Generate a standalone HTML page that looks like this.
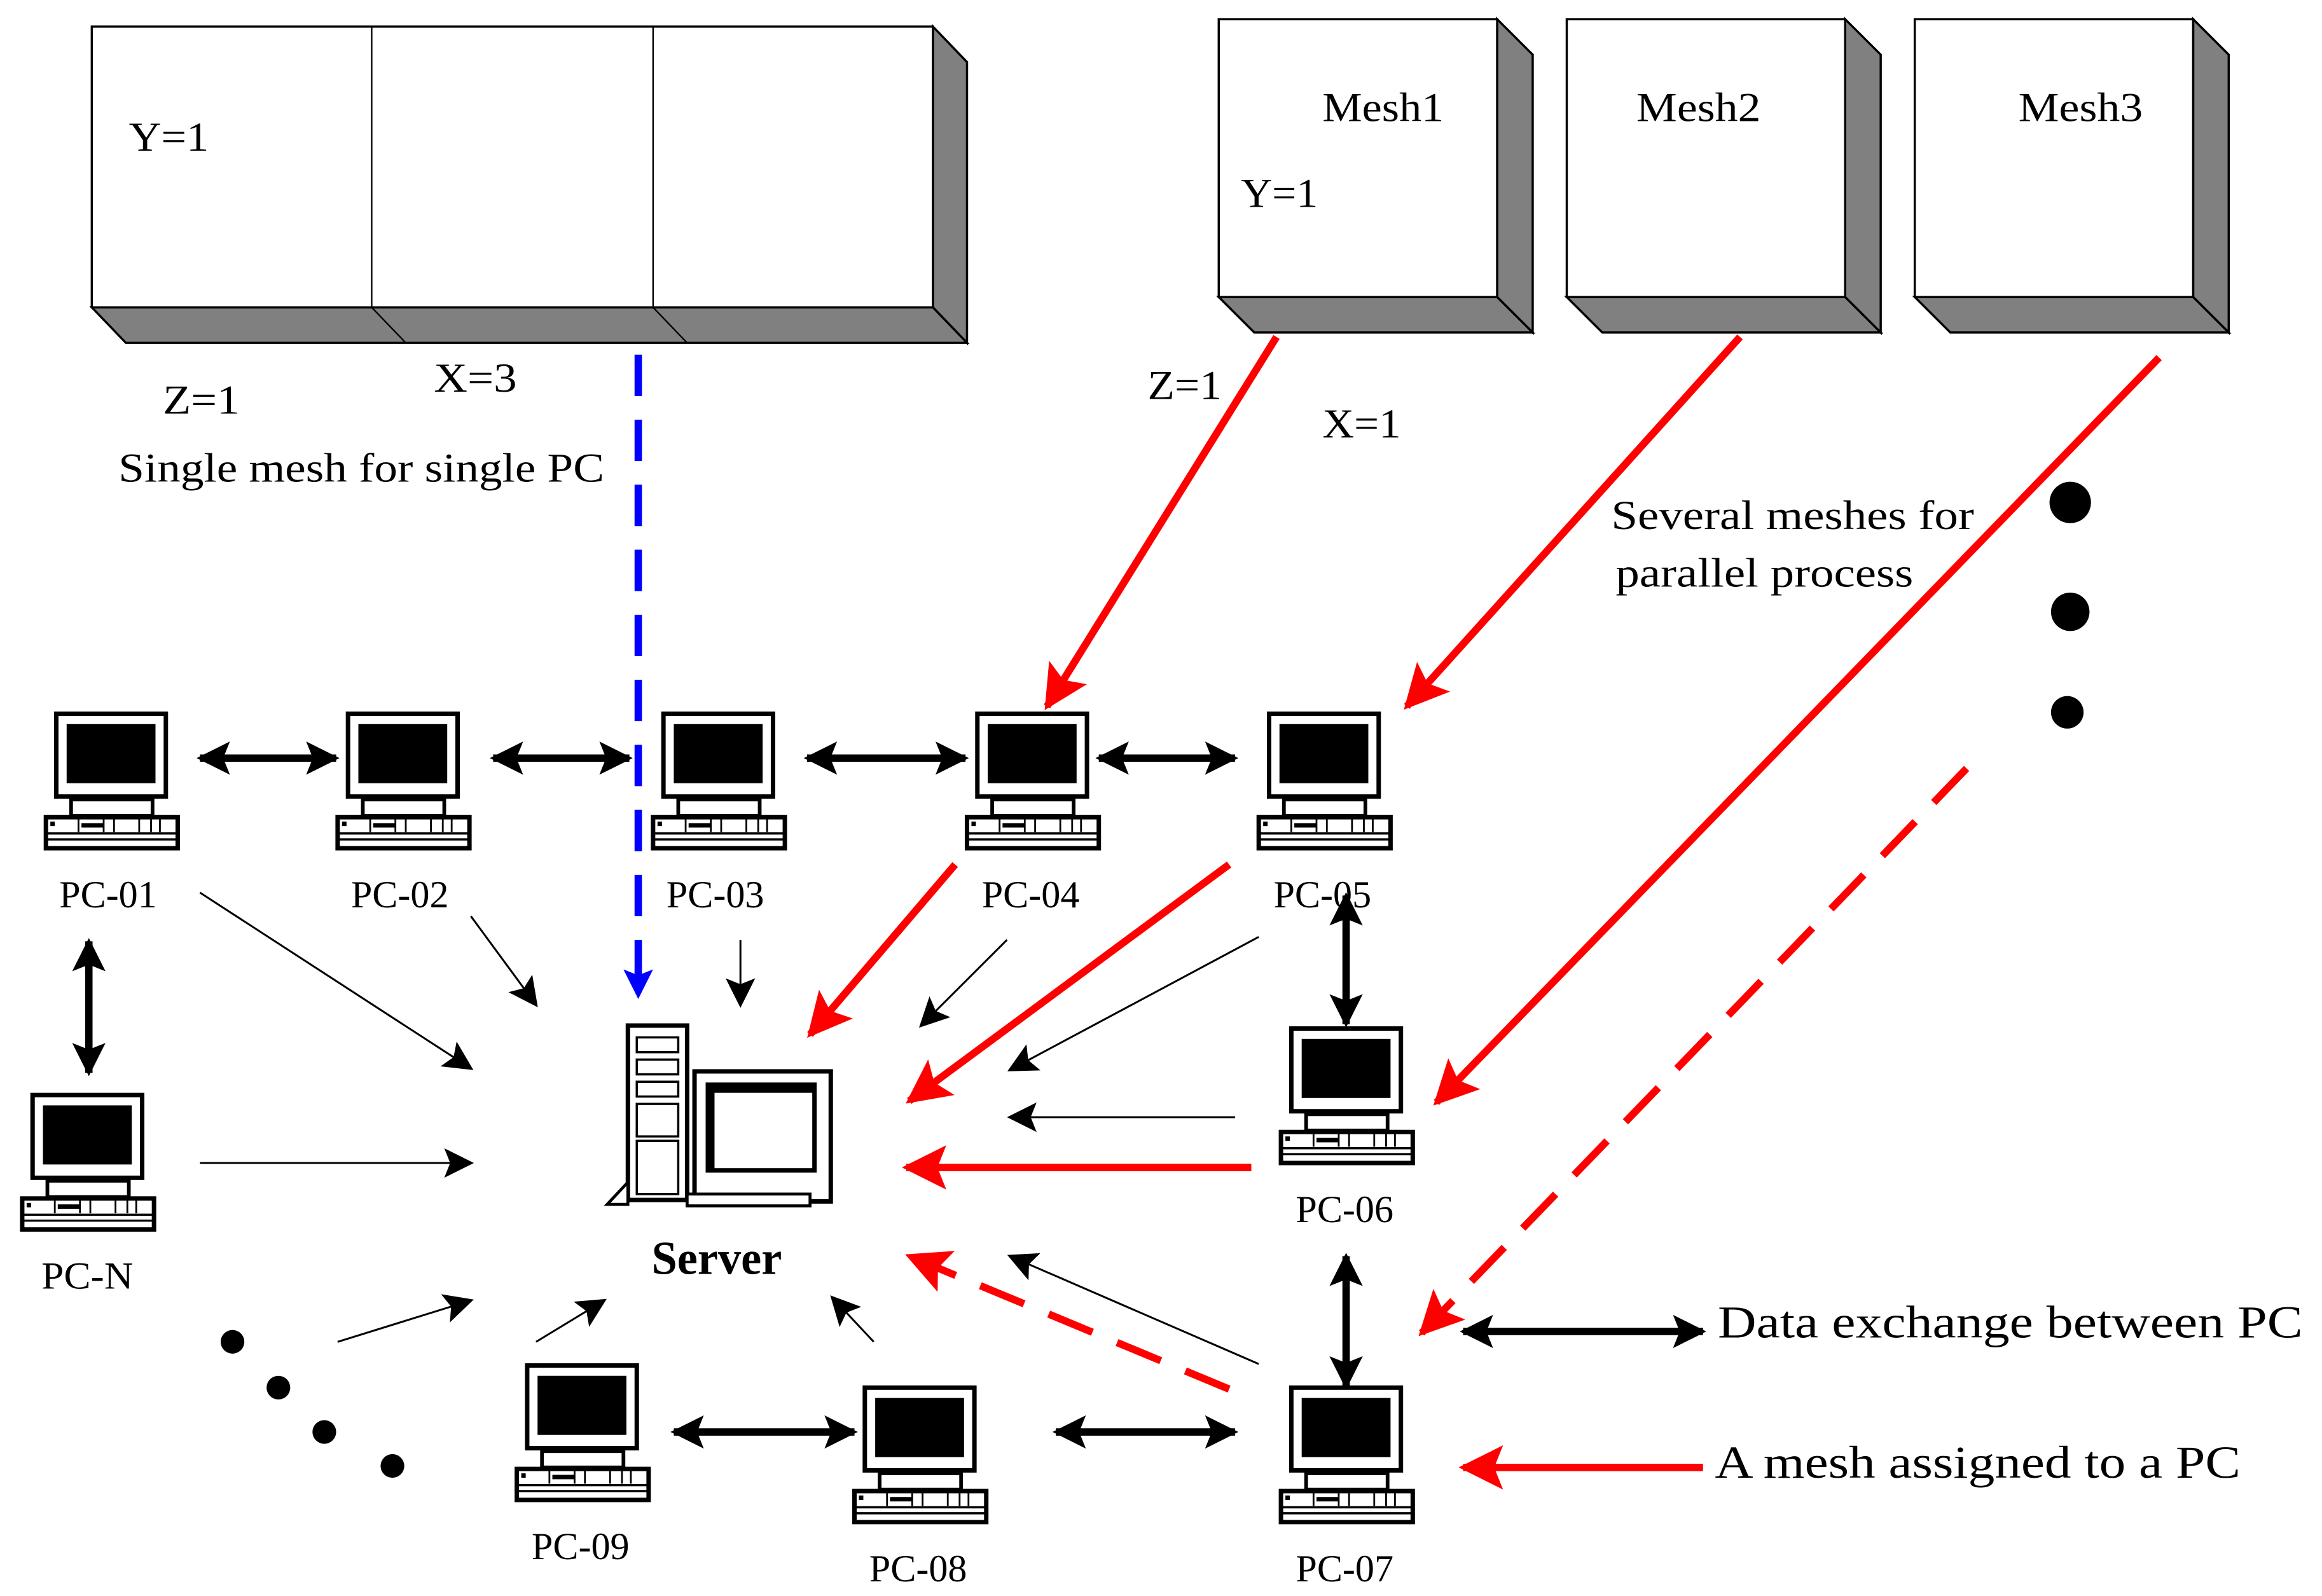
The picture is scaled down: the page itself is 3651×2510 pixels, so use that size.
<!DOCTYPE html>
<html><head><meta charset="utf-8"><style>
html,body{margin:0;padding:0;background:#fff;}
svg{display:block;}
text{font-family:"Liberation Serif",serif;fill:#000;}
</style></head><body>
<svg width="3651" height="2510" viewBox="0 0 1568 1080" preserveAspectRatio="none" xmlns="http://www.w3.org/2000/svg">
<defs>
<marker id="ab" viewBox="0 0 10 10" refX="9" refY="5" markerWidth="5" markerHeight="4.5" orient="auto-start-reverse" markerUnits="strokeWidth"><path d="M0,0L10,5L0,10L2,5z" fill="#000"/></marker>
<marker id="at" viewBox="0 0 10 10" refX="9" refY="5" markerWidth="28" markerHeight="20" orient="auto" markerUnits="userSpaceOnUse"><path d="M0,0L10,5L0,10L2,5z" fill="#000"/></marker>
<marker id="ar" viewBox="0 0 10 10" refX="9" refY="5" markerWidth="6.5" markerHeight="6" orient="auto" markerUnits="strokeWidth"><path d="M0,0L10,5L0,10L2,5z" fill="#f00"/></marker>
<marker id="abl" viewBox="0 0 10 10" refX="9" refY="5" markerWidth="5" markerHeight="4" orient="auto" markerUnits="strokeWidth"><path d="M0,0L10,5L0,10L2,5z" fill="#00f"/></marker>
<g id="pc">
<rect x="8" y="1" width="74" height="56" fill="#fff" stroke="#000" stroke-width="3"/>
<rect x="15" y="8" width="60" height="40" fill="#000"/>
<rect x="18" y="59" width="55" height="11" fill="#fff" stroke="#000" stroke-width="2.5"/>
<rect x="1" y="71" width="89" height="21" fill="#fff" stroke="#000" stroke-width="3"/>
<line x1="1" y1="82" x2="90" y2="82" stroke="#000" stroke-width="1.5"/>
<line x1="1" y1="86" x2="90" y2="86" stroke="#000" stroke-width="1.5"/>
<rect x="25" y="75" width="15" height="3" fill="#000"/>
<path d="M23 72V81M40 72V81M47 72V81M64 72V81M72 72V81M78 72V81" stroke="#000" stroke-width="1.2"/>
<rect x="4" y="74" width="3" height="3" fill="#000"/>
</g>
</defs>

<polygon points="630,18 653,42 653,232 630,208" fill="#808080" stroke="#000" stroke-width="1.5"/>
<polygon points="62,208 630,208 653,232 85,232" fill="#808080" stroke="#000" stroke-width="1.5"/>
<rect x="62" y="18" width="568" height="190" fill="#fff" stroke="#000" stroke-width="1.5"/>
<line x1="251" y1="18" x2="251" y2="208" stroke="#000"/><line x1="441" y1="18" x2="441" y2="208" stroke="#000"/>
<line x1="251" y1="208" x2="274" y2="232" stroke="#000"/><line x1="441" y1="208" x2="464" y2="232" stroke="#000"/>
<text x="87" y="102" font-size="28" textLength="54" lengthAdjust="spacingAndGlyphs">Y=1</text>
<text x="110" y="280" font-size="28" textLength="52" lengthAdjust="spacingAndGlyphs">Z=1</text>
<text x="293" y="265" font-size="28" textLength="56" lengthAdjust="spacingAndGlyphs">X=3</text>
<text x="80" y="326" font-size="28" textLength="328" lengthAdjust="spacingAndGlyphs">Single mesh for single PC</text>

<g>
<polygon points="1011,13 1035,37 1035,225 1011,201" fill="#808080" stroke="#000" stroke-width="1.5"/>
<polygon points="823,201 1011,201 1035,225 847,225" fill="#808080" stroke="#000" stroke-width="1.5"/>
<rect x="823" y="13" width="188" height="188" fill="#fff" stroke="#000" stroke-width="1.5"/>
</g>
<g transform="translate(235,0)">
<polygon points="1011,13 1035,37 1035,225 1011,201" fill="#808080" stroke="#000" stroke-width="1.5"/>
<polygon points="823,201 1011,201 1035,225 847,225" fill="#808080" stroke="#000" stroke-width="1.5"/>
<rect x="823" y="13" width="188" height="188" fill="#fff" stroke="#000" stroke-width="1.5"/>
</g>
<g transform="translate(470,0)">
<polygon points="1011,13 1035,37 1035,225 1011,201" fill="#808080" stroke="#000" stroke-width="1.5"/>
<polygon points="823,201 1011,201 1035,225 847,225" fill="#808080" stroke="#000" stroke-width="1.5"/>
<rect x="823" y="13" width="188" height="188" fill="#fff" stroke="#000" stroke-width="1.5"/>
</g>
<text x="893" y="82" font-size="28" textLength="82" lengthAdjust="spacingAndGlyphs">Mesh1</text>
<text x="1105" y="82" font-size="28" textLength="84" lengthAdjust="spacingAndGlyphs">Mesh2</text>
<text x="1363" y="82" font-size="28" textLength="84" lengthAdjust="spacingAndGlyphs">Mesh3</text>
<text x="838" y="140" font-size="28" textLength="52" lengthAdjust="spacingAndGlyphs">Y=1</text>
<text x="775" y="270" font-size="28" textLength="50" lengthAdjust="spacingAndGlyphs">Z=1</text>
<text x="893" y="296" font-size="28" textLength="53" lengthAdjust="spacingAndGlyphs">X=1</text>
<text x="1088" y="358" font-size="28" textLength="245" lengthAdjust="spacingAndGlyphs">Several meshes for</text>
<text x="1091" y="397" font-size="28" textLength="201" lengthAdjust="spacingAndGlyphs">parallel process</text>
<circle cx="1398" cy="340" r="14" fill="#000"/><circle cx="1398" cy="414" r="13" fill="#000"/><circle cx="1396" cy="482" r="11" fill="#000"/>

<use href="#pc" x="30" y="482"/><text x="40" y="614" font-size="26" textLength="66" lengthAdjust="spacingAndGlyphs">PC-01</text>
<use href="#pc" x="227" y="482"/><text x="237" y="614" font-size="26" textLength="66" lengthAdjust="spacingAndGlyphs">PC-02</text>
<use href="#pc" x="440" y="482"/><text x="450" y="614" font-size="26" textLength="66" lengthAdjust="spacingAndGlyphs">PC-03</text>
<use href="#pc" x="652" y="482"/><text x="663" y="614" font-size="26" textLength="66" lengthAdjust="spacingAndGlyphs">PC-04</text>
<use href="#pc" x="849" y="482"/><text x="860" y="614" font-size="26" textLength="66" lengthAdjust="spacingAndGlyphs">PC-05</text>
<use href="#pc" x="14" y="740"/><text x="28" y="872" font-size="26" textLength="62" lengthAdjust="spacingAndGlyphs">PC-N</text>
<use href="#pc" x="864" y="695"/><text x="875" y="827" font-size="26" textLength="66" lengthAdjust="spacingAndGlyphs">PC-06</text>
<use href="#pc" x="864" y="938"/><text x="875" y="1070" font-size="26" textLength="66" lengthAdjust="spacingAndGlyphs">PC-07</text>
<use href="#pc" x="576" y="938"/><text x="587" y="1070" font-size="26" textLength="66" lengthAdjust="spacingAndGlyphs">PC-08</text>
<use href="#pc" x="348" y="923"/><text x="359" y="1055" font-size="26" textLength="66" lengthAdjust="spacingAndGlyphs">PC-09</text>

<g stroke="#000" fill="#fff">
<rect x="424" y="694" width="40" height="118" stroke-width="3"/>
<rect x="430" y="702" width="28" height="10" stroke-width="1.5"/>
<rect x="430" y="717" width="28" height="10" stroke-width="1.5"/>
<rect x="430" y="732" width="28" height="10" stroke-width="1.5"/>
<rect x="430" y="747" width="28" height="22" stroke-width="1.5"/>
<rect x="430" y="772" width="28" height="36" stroke-width="1.5"/>
<polygon points="410,815 424,800 424,815" stroke-width="2"/>
<rect x="469" y="725" width="92" height="88" stroke-width="3"/>
<rect x="478" y="734" width="72" height="58" stroke-width="3"/>
<rect x="478" y="734" width="72" height="5" fill="#000"/>
<rect x="478" y="734" width="4" height="58" fill="#000"/>
<rect x="464" y="808" width="83" height="8" stroke-width="2"/>
</g>
<text x="440" y="862" font-size="32" font-weight="bold" textLength="88" lengthAdjust="spacingAndGlyphs">Server</text>

<g stroke="#000" stroke-width="5" fill="none" marker-start="url(#ab)" marker-end="url(#ab)">
<line x1="135" y1="513" x2="227" y2="513"/>
<line x1="333" y1="513" x2="425" y2="513"/>
<line x1="545" y1="513" x2="652" y2="513"/>
<line x1="742" y1="513" x2="834" y2="513"/>
<line x1="60" y1="637" x2="60" y2="726"/>
<line x1="909" y1="606" x2="909" y2="693"/>
<line x1="909" y1="850" x2="909" y2="938"/>
<line x1="455" y1="969" x2="577" y2="969"/>
<line x1="713" y1="969" x2="834" y2="969"/>
<line x1="988" y1="901" x2="1150" y2="901"/>
</g>
<text x="1160" y="905" font-size="31" textLength="395" lengthAdjust="spacingAndGlyphs">Data exchange between PC</text>

<g stroke="#000" stroke-width="1.3" fill="none" marker-end="url(#at)">
<line x1="135" y1="604" x2="318" y2="723"/>
<line x1="318" y1="620" x2="362" y2="680"/>
<line x1="500" y1="636" x2="500" y2="680"/>
<line x1="680" y1="636" x2="622" y2="694"/>
<line x1="850" y1="634" x2="682" y2="724"/>
<line x1="834" y1="756" x2="682" y2="756"/>
<line x1="135" y1="787" x2="318" y2="787"/>
<line x1="228" y1="908" x2="318" y2="880"/>
<line x1="362" y1="908" x2="408" y2="880"/>
<line x1="590" y1="908" x2="562" y2="878"/>
<line x1="850" y1="923" x2="682" y2="850"/>
</g>

<g stroke="#f00" stroke-width="5" fill="none" marker-end="url(#ar)">
<line x1="862" y1="228" x2="707" y2="478"/>
<line x1="1175" y1="228" x2="950" y2="478"/>
<line x1="1458" y1="242" x2="970" y2="746"/>
<line x1="645" y1="585" x2="547" y2="700"/>
<line x1="830" y1="585" x2="614" y2="745"/>
<line x1="845" y1="790" x2="612" y2="790"/>
<line x1="1150" y1="993" x2="988" y2="993"/>
</g>
<g stroke="#f00" stroke-width="5" fill="none" stroke-dasharray="32,18" marker-end="url(#ar)">
<line x1="1328" y1="520" x2="960" y2="902"/>
<line x1="830" y1="940" x2="614" y2="850"/>
</g>
<text x="1158" y="1000" font-size="31" textLength="355" lengthAdjust="spacingAndGlyphs">A mesh assigned to a PC</text>

<line x1="431" y1="240" x2="431" y2="674" stroke="#00f" stroke-width="5" stroke-dasharray="28,16" marker-end="url(#abl)"/>

<circle cx="157" cy="908" r="8" fill="#000"/><circle cx="188" cy="939" r="8" fill="#000"/><circle cx="219" cy="969" r="8" fill="#000"/><circle cx="265" cy="992" r="8" fill="#000"/>
</svg>
</body></html>
